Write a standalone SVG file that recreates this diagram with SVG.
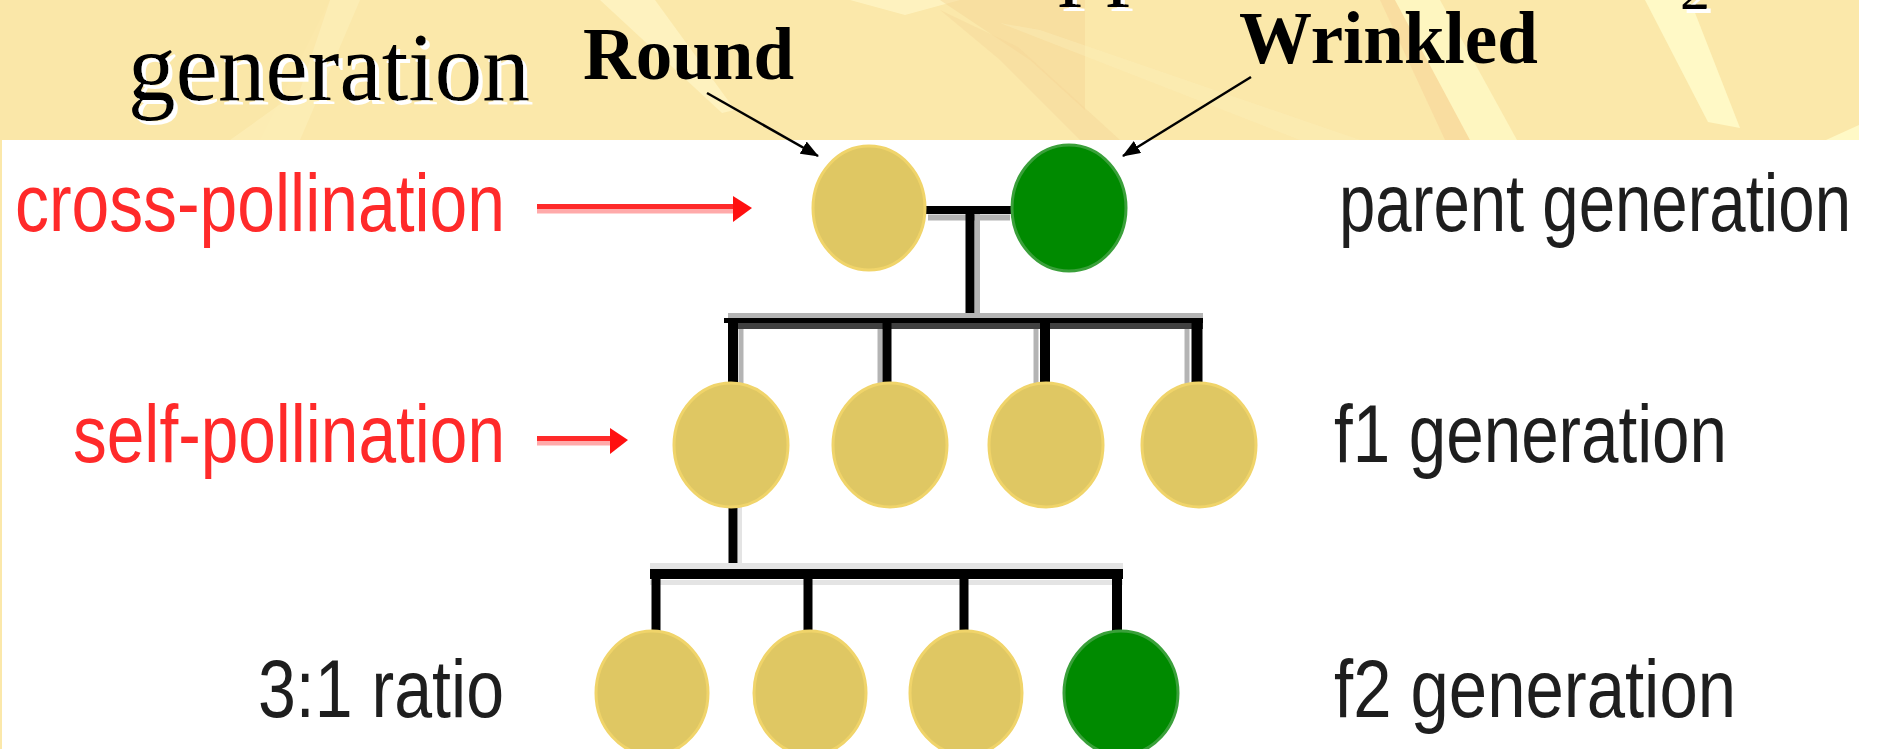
<svg xmlns="http://www.w3.org/2000/svg" width="1880" height="749" viewBox="0 0 1880 749">
  <defs>
    <style>
      .title { font-family: "Liberation Serif", "Times New Roman", serif; fill: #000; filter: url(#wsh); }
      .bold { font-family: "Liberation Serif", "Times New Roman", serif; font-weight: bold; font-size: 73px; fill: #000; }
      .lbl { font-family: "Liberation Sans", Arial, sans-serif; font-size: 82px; }
      .red { fill: #ff2a2a; }
      .dark { fill: #1e1e1e; }
      .yel { fill: #dfc763; stroke: #f0d46a; stroke-width: 3; }
      .grn { fill: #008a00; stroke: #3aa03a; stroke-width: 3; }
      .blk { stroke: #000; fill: none; }
      .sh { stroke: #b4b4b4; fill: none; }
      .dg { stroke: #404040; fill: none; }
    </style>
    <filter id="wsh" x="-10%" y="-10%" width="130%" height="140%">
      <feOffset in="SourceAlpha" dx="4" dy="4" result="off"/>
      <feFlood flood-color="#ffffff"/>
      <feComposite in2="off" operator="in" result="shadow"/>
      <feMerge>
        <feMergeNode in="shadow"/>
        <feMergeNode in="SourceGraphic"/>
      </feMerge>
    </filter>
    <marker id="ah" viewBox="0 0 18 14" refX="17" refY="7" markerWidth="18" markerHeight="14" markerUnits="userSpaceOnUse" orient="auto">
      <path d="M0,0 L18,7 L0,14 z" fill="#000"/>
    </marker>
  </defs>

  <!-- background -->
  <rect x="0" y="0" width="1880" height="749" fill="#ffffff"/>
  <g id="banner">
    <rect x="0" y="0" width="1859" height="140" fill="#fbe8aa"/>
    <polygon points="0,0 330,0 260,140 0,140" fill="#fae6a6" opacity="0.6"/>
    <polygon points="230,140 300,90 330,0 360,0 300,140" fill="#fff4c4" opacity="0.4"/>
    <polygon points="600,0 655,0 735,110 722,113" fill="#fff6c8" opacity="0.7"/>
    <polygon points="850,0 960,0 905,15" fill="#fff6c8" opacity="0.7"/>
    <polygon points="940,0 1085,0 1085,110 1030,60" fill="#f6d596" opacity="0.5"/>
    <polygon points="940,10 1018,47 1120,140 1080,140 1000,60" fill="#f6d596" opacity="0.4"/>
    <polygon points="1000,23 1040,30 1360,140 1300,140" fill="#fdf0bc" opacity="0.35"/>
    <polygon points="1380,0 1395,0 1470,140 1445,140" fill="#f8d699" opacity="0.6"/>
    <polygon points="1395,0 1440,0 1517,140 1470,140" fill="#fff9c6" opacity="0.8"/>
    <polygon points="1645,0 1690,0 1740,128 1708,122" fill="#fff9c6"/>
    <polygon points="1826,140 1859,125 1859,140" fill="#fff9c6"/>
    <rect x="0" y="140" width="2" height="609" fill="#fbe8aa"/>
  </g>

  <!-- title fragments -->
  <g id="title">
    <text class="title" x="1058" y="-13" font-size="96">pp</text>
    <text class="title" x="1680" y="9" font-size="60">2</text>
    <text class="title" x="128" y="100" font-size="97" textLength="402" lengthAdjust="spacingAndGlyphs">generation</text>
  </g>

  <g id="label-round"><text class="bold" x="583" y="79">Round</text></g>
  <g id="label-wrinkled"><text class="bold" x="1239" y="63">Wrinkled</text></g>

  <!-- connectors -->
  <g id="connectors">
    <!-- pointer arrows -->
    <line x1="707" y1="93" x2="818" y2="156" stroke="#000" stroke-width="2.5" marker-end="url(#ah)"/>
    <line x1="1251" y1="77" x2="1123" y2="156" stroke="#000" stroke-width="2.5" marker-end="url(#ah)"/>

    <!-- red arrows -->
    <line x1="537" y1="211" x2="736" y2="211" stroke="#ffaaaa" stroke-width="5"/>
    <line x1="537" y1="206.5" x2="736" y2="206.5" stroke="#ff2a2a" stroke-width="5"/>
    <polygon points="733,196 752,208 733,222" fill="#ff1010"/>
    <line x1="537" y1="443" x2="613" y2="443" stroke="#ffaaaa" stroke-width="5"/>
    <line x1="537" y1="438.5" x2="613" y2="438.5" stroke="#ff2a2a" stroke-width="5"/>
    <polygon points="610,428 628,440 610,454" fill="#ff1010"/>

    <!-- parent cross line -->
    <line class="sh" x1="928" y1="217.5" x2="1010" y2="217.5" stroke-width="6"/>
    <line class="blk" x1="922" y1="210" x2="1012" y2="210" stroke-width="8"/>
    <line class="sh" x1="977.5" y1="214" x2="977.5" y2="313" stroke-width="5"/>
    <line class="blk" x1="970" y1="210" x2="970" y2="320" stroke-width="9"/>

    <!-- f1 bar -->
    <line class="sh" x1="728" y1="315.5" x2="1203" y2="315.5" stroke-width="5"/>
    <line class="dg" x1="728" y1="326" x2="1203" y2="326" stroke-width="6"/>
    <line class="blk" x1="724" y1="320.5" x2="1203" y2="320.5" stroke-width="5"/>
    <line class="sh" x1="741" y1="329" x2="741" y2="384" stroke-width="5"/>
    <line class="blk" x1="733" y1="318" x2="733" y2="386" stroke-width="10"/>
    <line class="sh" x1="880" y1="329" x2="880" y2="384" stroke-width="5"/>
    <line class="blk" x1="887" y1="318" x2="887" y2="386" stroke-width="9"/>
    <line class="sh" x1="1036" y1="329" x2="1036" y2="384" stroke-width="5"/>
    <line class="blk" x1="1045" y1="318" x2="1045" y2="386" stroke-width="10"/>
    <line class="sh" x1="1187" y1="329" x2="1187" y2="384" stroke-width="5"/>
    <line class="blk" x1="1197" y1="318" x2="1197" y2="386" stroke-width="11"/>

    <!-- f1 to f2 -->
    <line x1="740" y1="507" x2="740" y2="568" stroke="#e4e4e4" stroke-width="4"/>
    <line class="blk" x1="733" y1="505" x2="733" y2="572" stroke-width="9"/>
    <line x1="650" y1="566" x2="1123" y2="566" stroke="#e4e4e4" stroke-width="6"/>
    <line x1="650" y1="582.5" x2="1123" y2="582.5" stroke="#e4e4e4" stroke-width="5"/>
    <line class="blk" x1="650" y1="574" x2="1123" y2="574" stroke-width="10"/>
    <line class="blk" x1="656" y1="574" x2="656" y2="632" stroke-width="9"/>
    <line class="blk" x1="808" y1="574" x2="808" y2="632" stroke-width="9"/>
    <line class="blk" x1="964" y1="574" x2="964" y2="632" stroke-width="9"/>
    <line class="blk" x1="1117" y1="574" x2="1117" y2="632" stroke-width="10"/>
  </g>

  <!-- nodes -->
  <g id="parent-round"><ellipse class="yel" cx="869" cy="208" rx="56" ry="62"/></g>
  <g id="parent-wrinkled"><ellipse class="grn" cx="1069" cy="208" rx="57" ry="63"/></g>

  <g id="f1-1"><ellipse class="yel" cx="731" cy="445" rx="57" ry="62"/></g>
  <g id="f1-2"><ellipse class="yel" cx="890" cy="445" rx="57" ry="62"/></g>
  <g id="f1-3"><ellipse class="yel" cx="1046" cy="445" rx="57" ry="62"/></g>
  <g id="f1-4"><ellipse class="yel" cx="1199" cy="445" rx="57" ry="62"/></g>

  <g id="f2-1"><ellipse class="yel" cx="652" cy="693" rx="56" ry="62"/></g>
  <g id="f2-2"><ellipse class="yel" cx="810" cy="693" rx="56" ry="62"/></g>
  <g id="f2-3"><ellipse class="yel" cx="966" cy="693" rx="56" ry="62"/></g>
  <g id="f2-4"><ellipse class="grn" cx="1121" cy="693" rx="57" ry="62"/></g>

  <!-- labels -->
  <g id="label-cross"><text class="lbl red" x="15" y="231" textLength="490" lengthAdjust="spacingAndGlyphs">cross-pollination</text></g>
  <g id="label-self"><text class="lbl red" x="73" y="462" textLength="432" lengthAdjust="spacingAndGlyphs">self-pollination</text></g>
  <g id="label-ratio"><text class="lbl dark" x="258" y="717" textLength="246" lengthAdjust="spacingAndGlyphs">3:1 ratio</text></g>
  <g id="label-parent"><text class="lbl dark" x="1339" y="231" textLength="512" lengthAdjust="spacingAndGlyphs">parent generation</text></g>
  <g id="label-f1"><text class="lbl dark" x="1334" y="462" textLength="393" lengthAdjust="spacingAndGlyphs">f1 generation</text></g>
  <g id="label-f2"><text class="lbl dark" x="1334" y="717" textLength="402" lengthAdjust="spacingAndGlyphs">f2 generation</text></g>
</svg>
